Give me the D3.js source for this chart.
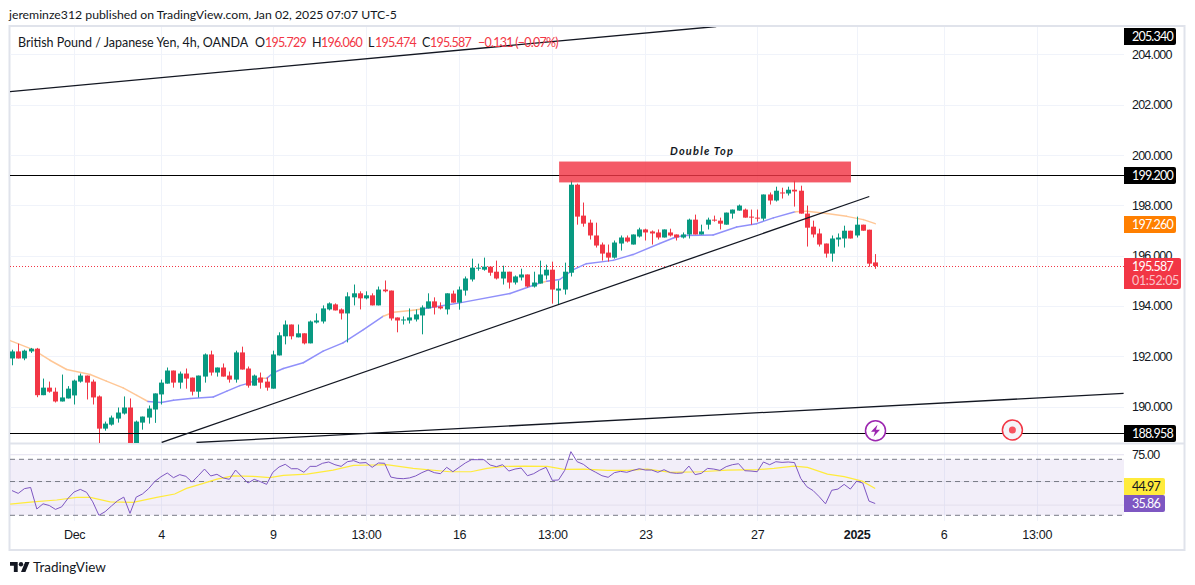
<!DOCTYPE html>
<html>
<head>
<meta charset="utf-8">
<script src="https://cdnjs.cloudflare.com/ajax/libs/d3/7.8.5/d3.min.js"></script>
<style>
  html, body { margin: 0; padding: 0; background: #fff; }
  svg { display: block; font-family: Lato, "Open Sans", sans-serif; }
</style>
</head>
<body>
<div id="chart"></div>
<script>
const opens = [
  191.91,192.19,191.91,192.19,192.30,190.45,190.75,190.59,190.20,190.32,
  190.44,190.99,191.23,190.99,190.40,189.12,189.28,189.52,189.72,189.96,
  188.30,189.36,189.56,189.88,190.48,190.91,191.43,190.95,191.31,191.15,
  190.59,191.19,192.07,191.35,191.55,191.23,191.07,192.15,191.51,190.83,
  191.15,190.99,190.71,192.03,192.79,193.26,192.75,192.91,192.51,193.34,
  193.38,193.86,194.06,193.86,193.70,194.34,194.50,194.30,194.42,194.02,
  194.65,194.61,193.54,193.42,193.42,193.46,193.62,193.90,194.18,193.98,
  193.86,194.49,194.13,194.61,195.05,195.48,195.44,195.56,195.36,195.09,
  195.36,194.93,195.13,195.25,194.77,194.89,195.21,195.44,194.61,194.65,
  195.32,198.82,197.59,197.31,196.80,196.44,196.12,195.92,196.48,196.72,
  196.44,196.76,197.04,196.96,196.92,196.72,196.92,196.84,196.72,196.84,
  197.43,196.84,197.23,197.43,197.39,197.23,197.67,197.79,197.83,197.55,
  197.51,197.47,198.43,198.19,198.51,198.47,198.62,198.58,197.67,197.15,
  196.88,196.48,196.08,196.64,196.68,196.99,196.80,197.23,197.03,195.729,
];
const highs = [
  192.26,192.50,192.26,192.33,192.33,191.11,190.99,190.75,191.27,190.81,
  191.07,191.31,191.23,191.07,190.44,189.40,189.64,189.96,190.40,190.32,
  189.44,189.60,190.04,190.52,191.07,191.55,191.43,191.39,191.51,191.15,
  191.23,192.11,192.22,191.55,191.71,191.39,192.22,192.38,191.59,191.27,
  191.35,191.15,192.22,192.95,193.42,193.26,193.26,192.91,193.42,193.70,
  194.02,194.14,194.10,193.90,194.54,194.85,194.58,194.58,194.50,194.77,
  195.01,194.61,193.54,193.58,193.90,193.86,194.02,194.50,194.34,194.14,
  194.50,194.61,194.77,195.17,195.88,195.68,195.92,195.56,195.80,195.60,
  195.36,195.21,195.48,195.25,195.36,195.80,195.64,195.76,195.01,195.72,
  198.98,198.86,198.11,197.43,197.31,196.52,196.44,196.60,196.80,196.80,
  196.84,197.11,197.07,197.00,197.04,197.04,197.07,196.84,196.92,197.47,
  197.63,197.23,197.51,197.59,197.51,197.71,197.83,198.03,197.87,197.83,
  197.83,198.43,198.51,198.74,198.70,198.74,198.98,198.78,197.99,197.39,
  197.07,196.48,196.80,196.88,197.19,196.99,197.55,197.23,197.03,196.060,
];
const lows = [
  191.64,191.91,191.84,192.13,190.37,190.45,190.55,190.16,190.20,190.32,
  190.08,190.95,190.28,190.08,188.40,189.04,189.24,189.36,189.68,188.20,
  188.20,189.08,189.32,189.35,190.08,190.91,190.75,190.71,190.71,190.44,
  190.36,190.95,191.23,191.19,191.19,190.95,190.95,191.47,190.75,190.83,
  190.71,190.63,190.71,192.03,192.47,192.67,192.75,192.47,192.51,193.30,
  193.30,193.82,193.82,193.46,192.55,194.02,193.86,194.26,194.02,194.02,
  194.54,193.42,192.95,193.26,193.30,193.38,192.87,193.90,193.66,193.86,
  193.66,194.13,193.85,194.41,194.97,195.40,195.40,195.20,195.05,194.85,
  194.69,194.85,195.01,194.73,194.73,194.89,195.05,194.09,194.05,194.45,
  195.17,197.23,197.15,196.64,196.32,195.80,195.76,195.88,196.20,196.52,
  196.44,196.72,196.60,196.44,196.64,196.72,196.76,196.60,196.68,196.68,
  196.84,196.84,197.04,197.35,197.04,197.23,197.47,197.79,197.51,197.23,
  197.35,197.39,198.03,198.15,198.27,198.39,197.95,197.67,196.36,196.72,
  196.36,195.92,195.76,196.36,196.32,196.68,196.72,196.99,195.56,195.474,
];
const closes = [
  192.19,191.91,192.22,192.30,190.45,190.75,190.59,190.20,190.36,190.71,
  191.03,191.23,190.95,190.36,189.12,189.32,189.56,189.76,189.96,188.30,
  189.40,189.60,189.92,190.52,190.95,191.43,190.95,191.31,191.11,190.59,
  191.23,192.07,191.35,191.55,191.19,191.07,192.15,191.47,190.83,191.23,
  190.95,190.75,192.07,192.83,193.26,192.79,192.91,192.51,193.38,193.42,
  193.90,194.10,193.82,193.70,194.38,194.50,194.30,194.42,194.02,194.65,
  194.58,193.50,193.42,193.46,193.54,193.66,193.94,194.18,193.94,193.90,
  194.50,194.13,194.65,195.09,195.52,195.52,195.56,195.32,195.09,195.36,
  194.93,195.17,195.25,194.77,194.93,195.25,195.44,194.65,194.69,195.36,
  198.82,197.55,197.27,196.80,196.40,196.08,195.92,196.52,196.72,196.56,
  196.84,197.04,196.92,196.88,196.72,197.04,196.80,196.72,196.84,197.43,
  196.84,196.96,197.43,197.39,197.27,197.71,197.83,197.99,197.51,197.51,
  197.47,198.43,198.19,198.58,198.47,198.62,198.55,197.67,197.11,196.84,
  196.44,196.08,196.68,196.72,196.99,196.68,197.23,196.99,195.68,195.587,
];

// moving average line: orange while price is under it, blue while over it
const maBars = [-0.3,3.4,6.1,8.8,12.6,15.2,17.9,20.1,21.9,24,26,28.7,32.4,34.6,36.7,38,39.9,41,42.1,43.7,46.9,50.1,53.3,56.6,59.8,61.4,64.6,66.2,70.5,72.1,80.2,85,86.1,88.2,90.4,92.5,96.8,100,104.3,106.5,108.1,110.8,112.9,116.7,119.9,122.6,126.1,128,131.2,134.4,137.1,139];
const maPrices = [192.62,192.26,191.84,191.47,191.27,191.01,190.74,190.44,190.20,190.16,190.25,190.32,190.38,190.61,190.83,190.92,191.12,191.12,191.34,191.51,191.74,192.20,192.53,193.06,193.59,193.75,193.83,193.89,194.06,194.12,194.49,194.91,194.98,195.05,195.44,195.68,195.81,196.04,196.48,196.70,196.80,196.81,196.82,197.14,197.27,197.50,197.74,197.76,197.67,197.56,197.43,197.27];
const maOrangeSpans = [[-1, 21.9], [39.9, 41], [59.8, 66.2], [85, 86.1], [126.1, 140]];

const rsiValues = [
  43.6,41.8,44.9,45.7,33.0,35.7,34.8,32.8,34.1,38.7,
  42.7,44.4,42.5,36.8,30.0,31.7,34.5,37.4,39.5,30.9,
  39.5,41.4,44.9,50.1,53.8,56.9,53.0,55.5,54.1,49.6,
  54.6,60.4,54.4,55.8,52.8,51.7,59.5,53.8,48.9,51.7,
  49.9,47.9,57.5,62.3,64.9,60.7,60.7,57.5,62.9,62.9,
  65.9,67.2,64.5,62.9,67.5,68.6,66.2,66.6,62.0,66.2,
  65.9,53.5,52.5,52.2,52.8,54.4,57.2,59.5,57.2,56.3,
  62.0,58.0,62.0,66.2,69.6,69.6,69.6,64.2,62.6,64.5,
  58.6,60.4,61.3,54.6,56.3,59.5,62.0,50.9,51.2,59.2,
  78.6,67.5,64.9,60.4,57.5,54.6,53.3,57.2,58.3,57.5,
  59.2,60.7,59.5,59.5,57.5,59.8,57.2,56.6,56.9,63.2,
  55.5,56.6,61.0,60.4,59.2,62.6,64.5,65.5,58.9,58.6,
  58.0,67.2,64.5,67.5,66.8,67.2,66.6,52.5,46.2,43.6,
  39.7,35.7,43.8,44.6,47.9,44.6,50.3,48.9,37.2,35.86,
];
const rsiMaBars = [-0.3,3.4,7.2,10.4,12.6,15.8,19.5,23.3,26.2,28.1,30.8,33,35.6,38.9,41.5,43.7,47.5,51.7,55,58.2,60.3,64.6,70.5,73.9,76.5,79.2,82.5,86.2,88.9,92.1,95.9,99.1,102.3,106.1,110.9,115.2,120,122.7,125.9,128.1,131.3,134,136.9,139];
const rsiMaValues = [35.5,36.8,37.8,39.3,39.3,36.8,36.5,39.3,41.4,45.1,48.6,51.9,54.4,54.1,53.0,54.9,56.0,59.5,63.9,64.2,64.5,61,58,58,61,62.9,63.2,62.9,60.1,60.4,59.2,59.2,60.4,57.5,58,59.5,59.8,61,63.2,62,56,53.8,50.3,44.97];

const priceTicks = [190, 192, 194, 196, 198, 200, 202, 204];
const timeBars = [10, 24, 42, 57, 72, 87, 102, 120, 136, 150, 165];
const timeLabels = ['Dec', '4', '9', '13:00', '16', '13:00', '23', '27', '2025', '6', '13:00'];
const rsiGrid = [75, 50, 35];
const rsiBands = [70, 50, 30];

const lastPrice = 195.587;
const levels = [199.2, 188.958];
const topLine = { bars: [-0.32, 113.4], prices: [202.52, 205.11] };
const riseLine = { bars: [24.1, 138.05], prices: [188.57, 198.35] };
const floorLine = { bars: [29.7, 179], prices: [188.57, 190.52] };
const doubleTop = { bars: [88.1, 135.1], prices: [199.74, 198.91] };

const width = 1195;
const height = 585;
const pane = { left: 10, right: 1124, top: 27, bottom: 443 };
const rsiPane = { top: 444, bottom: 521 };
const GREEN = '#089981';
const RED = '#F23645';
const GRID = '#F0F3FA';
const BORDER = '#E0E3EB';
const TEXT = '#131722';
const FONT_SIZE = 12.25;
const DIGIT_SPACING = -0.8; // Lato digits run wider than the original face

const x = d3.scaleLinear().domain([0, 139]).range([12, 875.2]);
const y = d3.scaleLinear().domain([190, 204]).range([406.5, 54.4]);
const rsiY = d3.scaleLog().domain([30, 70]).range([515.3, 459.3]);

const svg = d3.select('#chart').append('svg').attr('width', width).attr('height', height);

svg.append('clipPath').attr('id', 'price-clip').append('rect')
  .attr('x', pane.left).attr('y', pane.top)
  .attr('width', pane.right - pane.left).attr('height', pane.bottom - pane.top);

// frame
svg.append('rect').attr('x', 9.5).attr('y', 26).attr('width', 1175).attr('height', 524)
  .attr('fill', '#fff').attr('stroke', BORDER).attr('stroke-width', 2);

// grid
const grid = svg.append('g');
grid.selectAll('line.v').data(timeBars).join('line')
  .attr('x1', d => Math.round(x(d)) + 0.5).attr('x2', d => Math.round(x(d)) + 0.5)
  .attr('y1', pane.top).attr('y2', rsiPane.bottom)
  .attr('stroke', GRID);
grid.selectAll('line.h').data(priceTicks).join('line')
  .attr('x1', pane.left).attr('x2', pane.right)
  .attr('y1', d => Math.round(y(d)) + 0.5).attr('y2', d => Math.round(y(d)) + 0.5)
  .attr('stroke', GRID);

// rsi pane
const rsi = svg.append('g');
rsi.append('rect').attr('x', pane.left).attr('width', pane.right - pane.left)
  .attr('y', rsiY(70)).attr('height', rsiY(30) - rsiY(70))
  .attr('fill', '#7E57C2').attr('fill-opacity', 0.1);
rsi.selectAll('line.grid').data(rsiGrid).join('line')
  .attr('x1', pane.left).attr('x2', pane.right)
  .attr('y1', d => rsiY(d)).attr('y2', d => rsiY(d))
  .attr('stroke', '#E3E0EE');
rsi.selectAll('line.band').data(rsiBands).join('line')
  .attr('x1', pane.left).attr('x2', pane.right)
  .attr('y1', d => rsiY(d)).attr('y2', d => rsiY(d))
  .attr('stroke', '#787B86').attr('stroke-dasharray', '5 4');
rsi.append('path').datum(rsiMaBars)
  .attr('fill', 'none').attr('stroke', '#FFEB3B').attr('stroke-width', 1.2)
  .attr('d', d3.line().x(d => x(d)).y((d, i) => rsiY(rsiMaValues[i])));
rsi.append('path').datum(rsiValues)
  .attr('fill', 'none').attr('stroke', '#7E57C2').attr('stroke-width', 1)
  .attr('d', d3.line().x((d, i) => x(i)).y(d => rsiY(d)));

// pane divider
svg.append('line').attr('x1', 9).attr('x2', 1184).attr('y1', 443.5).attr('y2', 443.5)
  .attr('stroke', BORDER).attr('stroke-width', 2);

const plot = svg.append('g').attr('clip-path', 'url(#price-clip)');

// levels under the candles
plot.append('line').attr('x1', pane.left).attr('x2', pane.right)
  .attr('y1', Math.round(y(lastPrice)) + 0.5).attr('y2', Math.round(y(lastPrice)) + 0.5)
  .attr('stroke', RED).attr('stroke-dasharray', '1 2');

const maPoints = maBars.map((b, i) => [b, maPrices[i]]);
const maLine = d3.line().x(d => x(d[0])).y(d => y(d[1]));
const isOrange = b => maOrangeSpans.some(([a, z]) => b > a && b <= z);
plot.selectAll('path.ma').data(d3.pairs(maPoints)).join('path')
  .attr('fill', 'none').attr('stroke-width', 1.5).attr('stroke-linecap', 'round')
  .attr('stroke', d => (isOrange(d[1][0]) ? '#FFC796' : '#9090FA'))
  .attr('d', d => maLine(d));

// candles
const candles = plot.selectAll('g.candle').data(closes).join('g')
  .attr('fill', (d, i) => (d >= opens[i] ? GREEN : RED));
candles.append('rect')
  .attr('x', (d, i) => Math.round(x(i)))
  .attr('width', 1)
  .attr('y', (d, i) => y(highs[i]))
  .attr('height', (d, i) => y(lows[i]) - y(highs[i]));
candles.append('rect')
  .attr('x', (d, i) => Math.round(x(i)) - 2)
  .attr('width', 5)
  .attr('y', (d, i) => y(Math.max(opens[i], d)))
  .attr('height', (d, i) => Math.max(1, Math.abs(y(opens[i]) - y(d))));

// drawings
plot.selectAll('line.level').data(levels).join('line')
  .attr('x1', pane.left).attr('x2', pane.right)
  .attr('y1', d => Math.round(y(d)) + 0.5).attr('y2', d => Math.round(y(d)) + 0.5)
  .attr('stroke', '#000').attr('stroke-width', 1);
plot.selectAll('line.trend').data([topLine, riseLine, floorLine]).join('line')
  .attr('x1', d => x(d.bars[0])).attr('x2', d => x(d.bars[1]))
  .attr('y1', d => y(d.prices[0])).attr('y2', d => y(d.prices[1]))
  .attr('stroke', '#131722').attr('stroke-width', 1.3);

plot.append('rect')
  .attr('x', x(doubleTop.bars[0])).attr('width', x(doubleTop.bars[1]) - x(doubleTop.bars[0]))
  .attr('y', y(doubleTop.prices[0])).attr('height', y(doubleTop.prices[1]) - y(doubleTop.prices[0]))
  .attr('fill', RED).attr('fill-opacity', 0.82);
svg.append('text').attr('x', 702).attr('y', 155).attr('text-anchor', 'middle')
  .attr('font-size', 11).attr('font-weight', 700).attr('font-style', 'italic')
  .attr('letter-spacing', 1.2).attr('fill', TEXT).text('Double Top');

// event markers
const bolt = svg.append('g').attr('transform', `translate(875.5,430.7)`);
bolt.append('circle').attr('r', 10).attr('fill', '#fff').attr('stroke', '#9C27B0').attr('stroke-width', 1.5);
bolt.append('path').attr('d', 'M2,-6 L-4.5,1 L-0.5,1 L-2,6 L4.5,-1 L0.5,-1 Z').attr('fill', '#9C27B0');
const target = svg.append('g').attr('transform', `translate(1012.4,430)`);
target.append('circle').attr('r', 10).attr('fill', '#F5F3F8').attr('stroke', RED).attr('stroke-width', 1.5);
target.append('circle').attr('r', 3.5).attr('fill', '#F7525F');

// axes
const styleTicks = g => g.call(s => s.select('.domain').remove())
  .call(s => s.selectAll('text').attr('font-family', 'inherit').attr('font-size', 12.5)
    .attr('letter-spacing', DIGIT_SPACING).attr('fill', TEXT));

const priceAxis = d3.axisRight(y).tickValues(priceTicks).tickSize(0).tickPadding(8)
  .tickFormat(d3.format('.3f'));
svg.append('g').attr('transform', `translate(${pane.right},0)`).call(priceAxis).call(styleTicks);

const timeAxis = d3.axisBottom(x).tickValues(timeBars).tickSize(0).tickPadding(8)
  .tickFormat((d, i) => timeLabels[i]);
svg.append('g').attr('transform', `translate(0,${rsiPane.bottom + 1})`).call(timeAxis).call(styleTicks)
  .call(g => g.selectAll('text').attr('letter-spacing', -0.3)
    .attr('font-weight', d => (d === 136 ? 700 : 400)));

const rsiAxis = d3.axisRight(rsiY).tickValues([75]).tickSize(0).tickPadding(8)
  .tickFormat(d3.format('.2f'));
svg.append('g').attr('transform', `translate(${pane.right},0)`).call(rsiAxis).call(styleTicks);

// price tags
const tag = (label, top, h, w, fill, color) => {
  const g = svg.append('g').attr('transform', `translate(${pane.right},${top})`);
  g.append('path')
    .attr('d', `M0,0H${w - 2}a2,2 0 0 1 2,2V${h - 2}a2,2 0 0 1 -2,2H0Z`)
    .attr('fill', fill);
  g.append('text').attr('x', 8).attr('y', 13).attr('font-size', 12.5)
    .attr('letter-spacing', DIGIT_SPACING).attr('fill', color).text(label);
  return g;
};
tag('205.340', 28, 17, 52, '#000', '#fff');
tag('199.200', 167, 17, 52, '#000', '#fff');
tag('197.260', 216, 17, 52, '#FF7F00', '#fff');
tag('188.958', 425, 17, 52, '#000', '#fff');
tag('44.97', 478, 17, 41, '#FFEB3B', TEXT);
tag('35.86', 495, 17, 41, '#7E57C2', '#fff');
tag('195.587', 258, 31, 57, RED, '#fff')
  .append('text').attr('x', 8).attr('y', 27).attr('font-size', 12.5)
  .attr('letter-spacing', -0.35).attr('fill', '#FBC4C9').text('01:52:05');

// header and legend
svg.append('text').attr('x', 9).attr('y', 19).attr('font-size', FONT_SIZE).attr('fill', TEXT)
  .text('jereminze312 published on TradingView.com, Jan 02, 2025 07:07 UTC-5');

const legend = [
  [18, 'British Pound / Japanese Yen, 4h, OANDA', TEXT, 0],
  [255, 'O', TEXT, 0], [265, '195.729', RED, DIGIT_SPACING],
  [312, 'H', TEXT, 0], [321, '196.060', RED, DIGIT_SPACING],
  [368, 'L', TEXT, 0], [375, '195.474', RED, DIGIT_SPACING],
  [422, 'C', TEXT, 0], [430, '195.587', RED, DIGIT_SPACING],
  [478, '\u22120.131 (\u22120.07%)', RED, -0.75],
];
svg.append('g').selectAll('text').data(legend).join('text')
  .attr('x', d => d[0]).attr('y', 47).attr('font-size', 12.5)
  .attr('letter-spacing', d => d[3]).attr('fill', d => d[2]).text(d => d[1]);

// logo
const logo = svg.append('g').attr('transform', 'translate(10,559.8) scale(0.55)').attr('fill', TEXT);
logo.append('path').attr('d', 'M14 22H7V11H0V4h14v18zM28 22h-8l7.5-18h8L28 22z');
logo.append('circle').attr('cx', 20).attr('cy', 8).attr('r', 4);
svg.append('text').attr('x', 33).attr('y', 572).attr('font-size', 13.5).attr('fill', TEXT).text('TradingView');
</script>
</body>
</html>
